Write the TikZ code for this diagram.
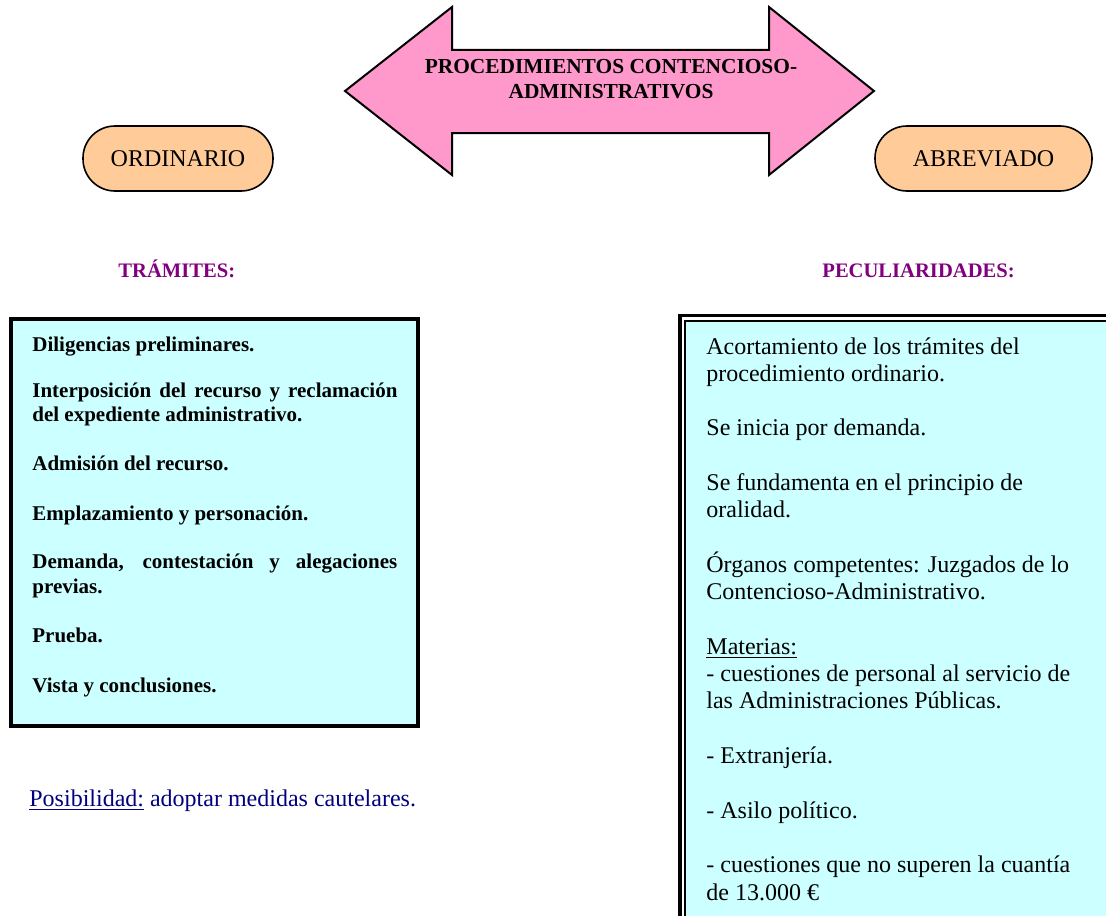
\documentclass[tikz,border=0pt]{standalone}
\usepackage{fontspec}
\setmainfont{Liberation Serif}
\definecolor{pinkA}{HTML}{FF99CC}
\definecolor{peach}{HTML}{FFCC99}
\definecolor{cyanbox}{HTML}{CCFFFF}
\definecolor{purpleH}{HTML}{800080}
\definecolor{navyT}{HTML}{000080}
\newcommand\jline[1]{\makebox[182.5pt][s]{#1}}
\begin{document}
\begin{tikzpicture}[x=0.5pt,y=-0.5pt,
  pill/.style={draw, line width=0.8pt, fill=peach, rounded corners=16pt, minimum height=32.5pt, inner sep=0pt, font=\fontsize{12}{14}\selectfont},
  ltxt/.style={anchor=base west, inner sep=0pt, font=\fontsize{10.5}{12}\selectfont\bfseries},
  rtxt/.style={anchor=base west, inner sep=0pt, font=\fontsize{12}{14}\selectfont},
  head/.style={anchor=base west, inner sep=0pt, text=purpleH, font=\fontsize{10.3}{12}\selectfont\bfseries},
  ttl/.style={anchor=base, inner sep=0pt, font=\fontsize{10.7}{12}\selectfont\bfseries},
]
\useasboundingbox (0,0) rectangle (1106,915);
\clip (0,0) rectangle (1106,915);
% double arrow
\draw[line width=1pt, fill=pinkA, line join=miter]
  (345,91) -- (452,7) -- (452,50) -- (769,50) -- (769,7) -- (874,91)
  -- (769,175) -- (769,133) -- (452,133) -- (452,175) -- cycle;
\node[ttl] (t1) at (611,74) {PROCEDIMIENTOS CONTENCIOSO-};
\node[ttl] (t2) at (611,98) {ADMINISTRATIVOS};
% pills
\node[pill, minimum width=95pt] (ord) at (178,158.5) {ORDINARIO};
\node[pill, minimum width=108.5pt] (abr) at (983.5,158.5) {ABREVIADO};
% headings
\node[head] (h1) at (118,277) {TRÁMITES:};
\node[head] (h2) at (822,277) {PECULIARIDADES:};
% left box
\node[draw, line width=1.55pt, fill=cyanbox, minimum width=203.5pt, minimum height=203.5pt, inner sep=0pt] (lbox) at (214.5,522.5) {};
\node[ltxt] (l1) at (32,351) {Diligencias preliminares.};
\node[ltxt] (l2) at (32,397.5) {\jline{Interposición del recurso y reclamación}};
\node[ltxt] (l3) at (32,421.5) {del expediente administrativo.};
\node[ltxt] (l4) at (32,470.5) {Admisión del recurso.};
\node[ltxt] (l5) at (32,520.5) {Emplazamiento y personación.};
\node[ltxt] (l6) at (32,568.5) {\jline{Demanda, contestación y alegaciones}};
\node[ltxt] (l7) at (32,593.5) {previas.};
\node[ltxt] (l8) at (32,642.5) {Prueba.};
\node[ltxt] (l9) at (32,692.5) {Vista y conclusiones.};
% posibilidad
\node[rtxt, text=navyT] (pos) at (29,806) {\underline{Posibilidad:} adoptar medidas cautelares.};
% right box (double border, cut by the page)
\fill[cyanbox] (685.3,321) rectangle (1140,950);
\draw[line width=1.6pt] (680,315.7) rectangle (1140,950);
\draw[line width=1pt] (685.3,321) rectangle (1140,950);
\node[rtxt] (r1) at (706,354) {Acortamiento de los trámites del};
\node[rtxt] (r2) at (706,381.3) {procedimiento ordinario.};
\node[rtxt] (r3) at (706,435.9) {Se inicia por demanda.};
\node[rtxt] (r4) at (706,490.5) {Se fundamenta en el principio de};
\node[rtxt] (r5) at (706,517.8) {oralidad.};
\node[rtxt] (r6) at (706,572.4) {Órganos competentes: Juzgados de lo};
\node[rtxt] (r7) at (706,599.7) {Contencioso-Administrativo.};
\node[rtxt] (r8) at (706,654.3) {\underline{Materias:}};
\node[rtxt] (r9) at (706,681.6) {- cuestiones de personal al servicio de};
\node[rtxt] (r10) at (706,708.9) {las Administraciones Públicas.};
\node[rtxt] (r11) at (706,763.5) {- Extranjería.};
\node[rtxt] (r12) at (706,818.1) {- Asilo político.};
\node[rtxt] (r13) at (706,872.7) {- cuestiones que no superen la cuantía};
\node[rtxt] (r14) at (706,900) {de 13.000 €};
\end{tikzpicture}
\end{document}
